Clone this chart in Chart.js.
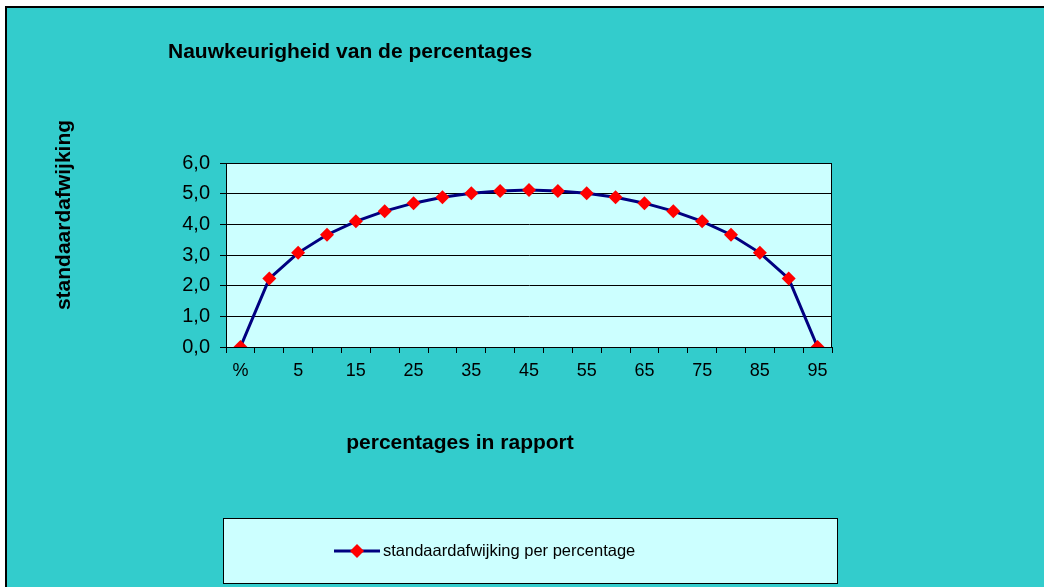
<!DOCTYPE html>
<html>
<head>
<meta charset="utf-8">
<script src="https://cdn.jsdelivr.net/npm/chart.js@4/dist/chart.umd.min.js"></script>
<style>
  html, body { margin: 0; padding: 0; background: #fff; }
  #wrap { width: 1044px; height: 587px; position: relative; }
</style>
</head>
<body>
<div id="wrap"><canvas id="myChart" width="1044" height="587"></canvas></div>
<script>
const categories = ['%', '0', '5', '10', '15', '20', '25', '30', '35', '40', '45', '50', '55', '60', '65', '70', '75', '80', '85', '90', '95']
const values = [0, 2.23, 3.07, 3.66, 4.10, 4.43, 4.69, 4.88, 5.01, 5.09, 5.12, 5.09, 5.01, 4.88, 4.69, 4.43, 4.10, 3.66, 3.07, 2.23, 0]
const seriesName = 'standaardafwijking per percentage'
const chartTitle = 'Nauwkeurigheid van de percentages'
const xTitle = 'percentages in rapport'
const yTitle = 'standaardafwijking'
const yTicks = { min: 0, max: 6, step: 1 }

const FONT = 'Arial, "Liberation Sans", sans-serif'

const frame = {
  id: 'frame',
  beforeDraw(chart) {
    const { ctx, chartArea: a } = chart
    ctx.save()
    // outer chart background
    ctx.fillStyle = '#33CCCC'
    ctx.fillRect(6, 7, chart.width - 6, chart.height - 7)
    ctx.strokeStyle = '#000'
    ctx.lineWidth = 2
    ctx.beginPath()
    ctx.moveTo(6, chart.height)
    ctx.lineTo(6, 7)
    ctx.lineTo(chart.width, 7)
    ctx.stroke()
    // plot area
    ctx.fillStyle = '#CCFFFF'
    ctx.fillRect(a.left, a.top, a.right - a.left, a.bottom - a.top)
    ctx.restore()
  },
  afterDraw(chart) {
    const { ctx, chartArea: a } = chart
    ctx.save()
    ctx.strokeStyle = '#000'
    ctx.lineWidth = 1
    ctx.strokeRect(a.left + 0.5, a.top + 0.5, a.right - a.left - 1, a.bottom - a.top)

    // titles
    ctx.fillStyle = '#000'
    ctx.font = 'bold 21px ' + FONT
    ctx.textBaseline = 'middle'
    ctx.textAlign = 'left'
    ctx.fillText(chartTitle, 168, 52)
    ctx.textAlign = 'center'
    ctx.fillText(xTitle, 460, 443)
    ctx.translate(64, 215)
    ctx.rotate(-Math.PI / 2)
    ctx.fillText(yTitle, 0, 0)
    ctx.restore()

    // legend box
    ctx.save()
    const lx = 223, ly = 518, lw = 614, lh = 65
    ctx.fillStyle = '#CCFFFF'
    ctx.fillRect(lx, ly, lw, lh)
    ctx.strokeStyle = '#000'
    ctx.lineWidth = 1
    ctx.strokeRect(lx + 0.5, ly + 0.5, lw, lh)
    const ds = chart.data.datasets[0]
    const cy = 551
    ctx.strokeStyle = ds.borderColor
    ctx.lineWidth = 3
    ctx.beginPath()
    ctx.moveTo(334, cy)
    ctx.lineTo(380, cy)
    ctx.stroke()
    ctx.fillStyle = ds.pointBackgroundColor
    ctx.beginPath()
    ctx.moveTo(357, cy - 7)
    ctx.lineTo(364, cy)
    ctx.lineTo(357, cy + 7)
    ctx.lineTo(350, cy)
    ctx.closePath()
    ctx.fill()
    ctx.fillStyle = '#000'
    ctx.font = '16.5px ' + FONT
    ctx.textAlign = 'left'
    ctx.textBaseline = 'middle'
    ctx.fillText(seriesName, 383, cy)
    ctx.restore()
  }
}

const ctx = document.getElementById('myChart')
new Chart(ctx, {
  type: 'line',
  data: {
    labels: categories,
    datasets: [
      {
        label: seriesName,
        data: values,
        lineTension: 0,
        backgroundColor: 'transparent',
        borderColor: '#000080',
        borderWidth: 3,
        pointStyle: 'rectRot',
        pointRadius: 7,
        pointHoverRadius: 7,
        pointBorderWidth: 0,
        pointBackgroundColor: '#FF0000',
        pointBorderColor: '#FF0000'
      }
    ]
  },
  options: {
    responsive: false,
    animation: false,
    layout: { padding: { left: 150, right: 212, top: 163, bottom: 200 } },
    plugins: {
      legend: { display: false },
      tooltip: { enabled: false }
    },
    scales: {
      x: {
        offset: true,
        afterFit: s => { s.height = 40 },
        grid: {
          offset: true,
          drawOnChartArea: false,
          drawTicks: true,
          tickLength: 6,
          color: '#000'
        },
        border: { color: '#000', width: 1 },
        ticks: {
          autoSkip: false,
          maxRotation: 0,
          padding: 7,
          color: '#000',
          font: { family: FONT, size: 18 },
          callback: function (v, i) { return i % 2 === 0 ? this.getLabelForValue(v) : '' }
        }
      },
      y: {
        min: yTicks.min,
        max: yTicks.max,
        afterFit: s => { s.width = 76 },
        grid: {
          color: '#000',
          lineWidth: 1,
          tickLength: 6
        },
        border: { color: '#000', width: 1 },
        ticks: {
          stepSize: yTicks.step,
          padding: 10,
          color: '#000',
          font: { family: FONT, size: 20 },
          callback: v => v.toFixed(1).replace('.', ',')
        }
      }
    }
  },
  plugins: [frame]
})
</script>
</body>
</html>
